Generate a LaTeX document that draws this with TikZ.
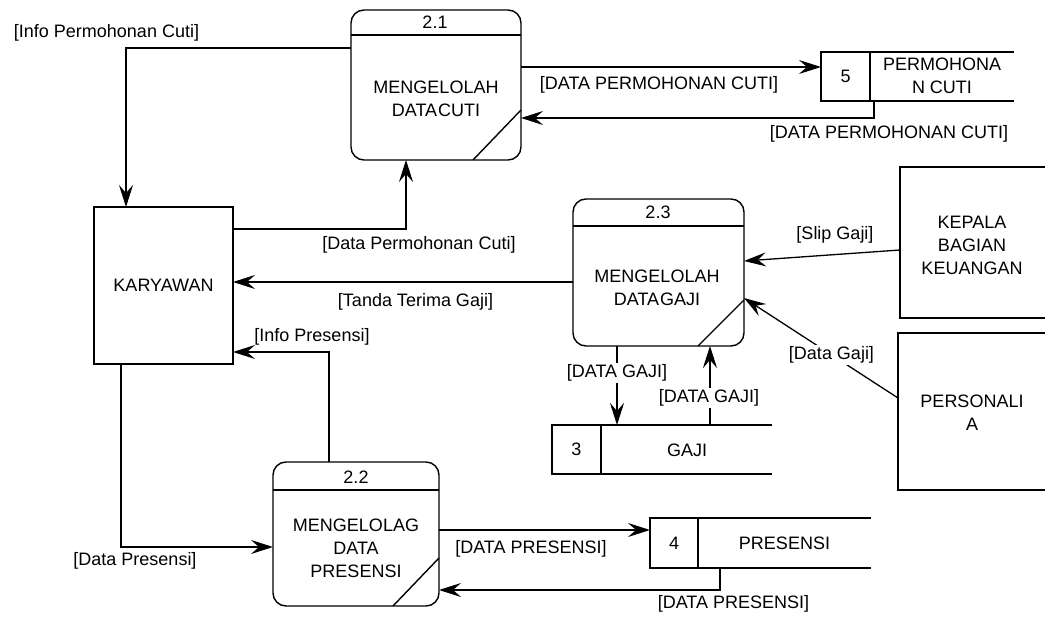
\documentclass[tikz,border=0pt]{standalone}
\usepackage{fontspec}
\setmainfont{Liberation Sans}
\usetikzlibrary{arrows.meta}
\begin{document}
\begin{tikzpicture}[x=1pt,y=-1pt,
  every node/.style={font=\fontsize{18}{23}\selectfont, inner sep=0pt, outer sep=0pt},
  box/.style={draw, line width=1.4pt, align=center},
  proc/.style={box, rounded corners=13pt},
  txt/.style={align=center},
  wlbl/.style={fill=white, inner sep=1.5pt},
  flow/.style={line width=1.3pt, -{Stealth[length=22pt,width=14pt,inset=8pt]}},
  thickflow/.style={flow, line width=2.6pt},
  edgeline/.style={line width=1.4pt},
]
\useasboundingbox (0,0) rectangle (1045,617);

% processes
\node[proc, minimum width=170pt, minimum height=150pt] (p21) at (436,85) {};
\draw[edgeline] (p21.west |- 0,35) -- (p21.east |- 0,35);
\draw[edgeline] (p21.south -| 473,0) -- (p21.east |- 0,110);
\node (p21n) at (435,22) {2.1};
\node[txt] (p21t) at (436,98.5) {MENGELOLAH\\DATA\hspace{1pt}CUTI};

\node[proc, minimum width=171pt, minimum height=147pt] (p23) at (658.5,272.5) {};
\draw[edgeline] (p23.west |- 0,226) -- (p23.east |- 0,226);
\draw[edgeline] (p23.south -| 698,0) -- (p23.east |- 0,300);
\node (p23n) at (658,212) {2.3};
\node[txt] (p23t) at (657,288) {MENGELOLAH\\DATA\hspace{1pt}GAJI};

\node[proc, minimum width=166pt, minimum height=144pt] (p22) at (356,534) {};
\draw[line width=2.6pt] (p22.west |- 0,490) -- (p22.east |- 0,490);
\draw[edgeline] (p22.south -| 393,0) -- (p22.east |- 0,558);
\node (p22n) at (356,477) {2.2};
\node[txt] (p22t) at (356,548.5) {MENGELOLAG\\DATA\\PRESENSI};

% external entities
\node[box, minimum width=139pt, minimum height=157pt] (kary) at (163.5,285.5) {KARYAWAN};
\node[box, minimum width=146pt, minimum height=151pt] (kepala) at (973,242.5) {};
\node[txt] (kepalat) at (972,245) {KEPALA\\BAGIAN\\KEUANGAN};
\node[box, minimum width=148pt, minimum height=157pt] (pers) at (972,411.5) {};
\node[txt] (perst) at (972,412.5) {PERSONALI\\A};

% data stores
\node[box, minimum width=49pt, minimum height=49pt] (s5n) at (845.5,76.5) {5};
\draw[edgeline] (s5n.north east) -- (1014,52);
\draw[edgeline] (s5n.south east) -- (1014,101);
\node[txt] (s5) at (942,75.5) {PERMOHONA\\N CUTI};

\node[box, minimum width=49pt, minimum height=49pt] (s3n) at (576.5,449.5) {3};
\draw[edgeline] (s3n.north east) -- (772,425);
\draw[edgeline] (s3n.south east) -- (772,474);
\node (s3) at (687,450) {GAJI};

\node[box, minimum width=48pt, minimum height=50pt] (s4n) at (674,543) {4};
\draw[edgeline] (s4n.north east) -- (871,518);
\draw[edgeline] (s4n.south east) -- (871,568);
\node (s4) at (784.5,543) {PRESENSI};

% flows
\draw[flow] (p21.west |- 0,48) -| (kary.north -| 126,0);
\draw[flow] (kary.east |- 0,229) -| (p21.south -| 406,0);
\draw[flow] (p21.east |- 0,67) -- (s5n.west |- 0,67);
\draw[flow] (s5n.south -| 874,0) |- (p21.east |- 0,118);
\draw[flow] (p23.west |- 0,282) -- (kary.east |- 0,282);
\draw[flow] (p22.north -| 329,0) |- (kary.east |- 0,352);
\draw[flow] (kary.south -| 121,0) |- (p22.west |- 0,547);
\draw[flow] (p22.east |- 0,530) -- (s4n.west |- 0,530);
\draw[flow] (s4n.south -| 720,0) |- (p22.east |- 0,590);
\draw[thickflow] (p23.south -| 617,0) -- (s3n.north -| 617,0);
\draw[thickflow] (s3n.north -| 710,0) -- (p23.south -| 710,0);
\draw[flow] (kepala.west |- 0,250) -- (p23.east |- 0,261);
\draw[flow] (pers.west |- 0,398) -- (p23.east |- 0,298);

% labels
\node (l1) at (106.5,33) {[Info Permohonan Cuti]};
\node (l2) at (419,245) {[Data Permohonan Cuti]};
\node (l3) at (659,85) {[DATA PERMOHONAN CUTI]};
\node (l4) at (889,134) {[DATA PERMOHONAN CUTI]};
\node (l5) at (415.5,302) {[Tanda Terima Gaji]};
\node (l6) at (312,337) {[Info Presensi]};
\node (l7) at (135,561) {[Data Presensi]};
\node (l8) at (531,549) {[DATA PRESENSI]};
\node (l9) at (733.5,604) {[DATA PRESENSI]};
\node[wlbl] (l10) at (617,373) {[DATA GAJI]};
\node[wlbl] (l11) at (709,398) {[DATA GAJI]};
\node (l12) at (835,235) {[Slip Gaji]};
\node[wlbl] (l13) at (831.5,355) {[Data Gaji]};
\end{tikzpicture}
\end{document}
